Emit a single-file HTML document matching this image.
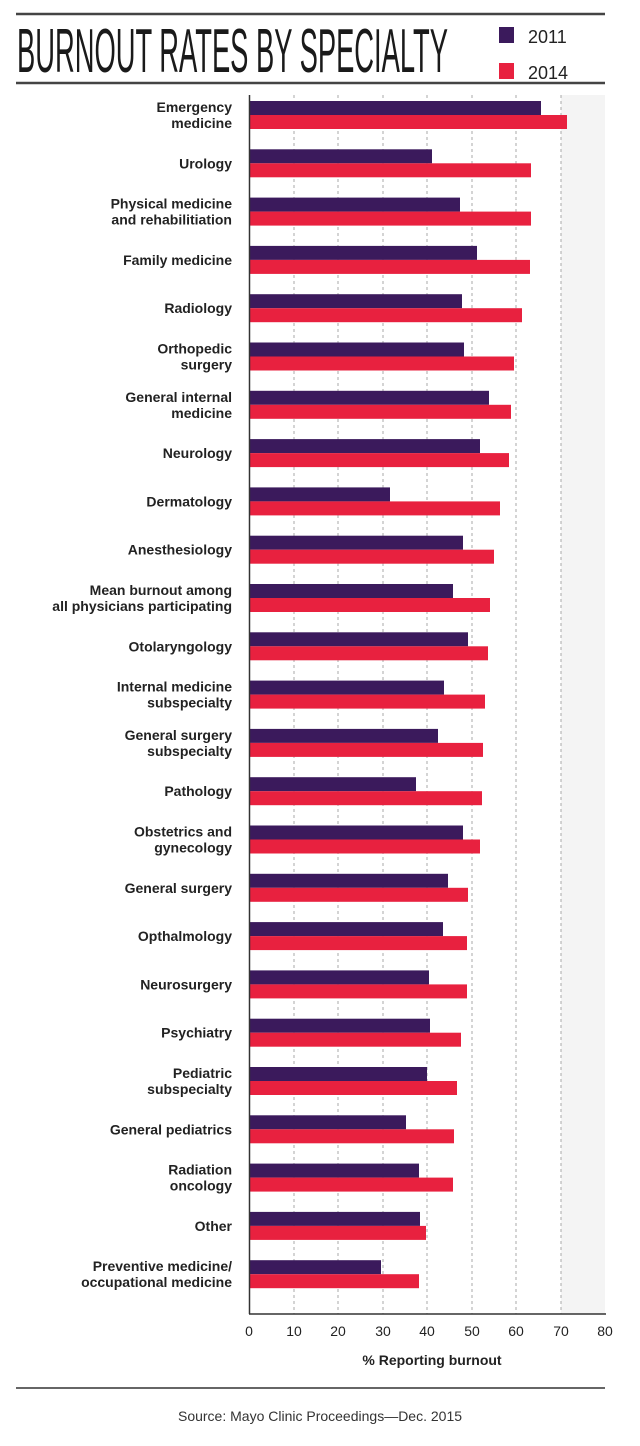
<!DOCTYPE html>
<html><head><meta charset="utf-8"><style>
html,body{margin:0;padding:0;background:#fff;}
svg{display:block;}
</style></head><body>
<svg width="640" height="1446" viewBox="0 0 640 1446" xmlns="http://www.w3.org/2000/svg" font-family="Liberation Sans, sans-serif">
<rect width="640" height="1446" fill="#fff"/>
<line x1="16" y1="14" x2="605" y2="14" stroke="#444" stroke-width="2.5"/>
<line x1="16" y1="83" x2="605" y2="83" stroke="#444" stroke-width="2.5"/>
<text x="17" y="72" font-size="62" fill="#1a1a1a" textLength="431" lengthAdjust="spacingAndGlyphs">BURNOUT RATES BY SPECIALTY</text>
<rect x="499" y="27" width="15" height="16" fill="#3b1a5c"/>
<rect x="499" y="63" width="15" height="16" fill="#e8213f"/>
<text x="528" y="43" font-size="18" fill="#222">2011</text>
<text x="528" y="79" font-size="18" fill="#222">2014</text>
<rect x="561" y="95" width="44" height="1219" fill="#f4f4f4"/>
<g stroke="#aaa" stroke-width="1" stroke-dasharray="3,3">
<line x1="294" y1="95" x2="294" y2="1314"/><line x1="338" y1="95" x2="338" y2="1314"/>
<line x1="383" y1="95" x2="383" y2="1314"/><line x1="427" y1="95" x2="427" y2="1314"/>
<line x1="472" y1="95" x2="472" y2="1314"/><line x1="516" y1="95" x2="516" y2="1314"/>
<line x1="561" y1="95" x2="561" y2="1314"/>
</g>
<g id="bars"></g>
<line x1="249.5" y1="95" x2="249.5" y2="1314" stroke="#333" stroke-width="1.5"/>
<line x1="249" y1="1314" x2="606" y2="1314" stroke="#333" stroke-width="1.5"/>
<g font-size="14" fill="#222" text-anchor="middle">
<text x="249" y="1336">0</text><text x="294" y="1336">10</text><text x="338" y="1336">20</text>
<text x="383" y="1336">30</text><text x="427" y="1336">40</text><text x="472" y="1336">50</text>
<text x="516" y="1336">60</text><text x="561" y="1336">70</text><text x="605" y="1336">80</text>
<text x="432" y="1365" font-weight="bold">% Reporting burnout</text>
</g>
<line x1="16" y1="1388" x2="605" y2="1388" stroke="#333" stroke-width="1.5"/>
<text x="320" y="1421" font-size="14" fill="#333" text-anchor="middle">Source: Mayo Clinic Proceedings—Dec. 2015</text>
<g id="rows" font-size="14" font-weight="bold" fill="#222" text-anchor="end">
</g>
<script>
var d=[["Emergency|medicine",541,567],["Urology",432,531],["Physical medicine|and rehabilitiation",460,531],["Family medicine",477,530],["Radiology",462,522],["Orthopedic|surgery",464,514],["General internal|medicine",489,511],["Neurology",480,509],["Dermatology",390,500],["Anesthesiology",463,494],["Mean burnout among|all physicians participating",453,490],["Otolaryngology",468,488],["Internal medicine|subspecialty",444,485],["General surgery|subspecialty",438,483],["Pathology",416,482],["Obstetrics and|gynecology",463,480],["General surgery",448,468],["Opthalmology",443,467],["Neurosurgery",429,467],["Psychiatry",430,461],["Pediatric|subspecialty",427,457],["General pediatrics",406,454],["Radiation|oncology",419,453],["Other",420,426],["Preventive medicine/|occupational medicine",381,419]];
var ns="http://www.w3.org/2000/svg",B=document.getElementById("bars"),R=document.getElementById("rows");
d.forEach(function(r,i){var t=101+i*48.3;
function rect(x2,y,c){var e=document.createElementNS(ns,"rect");e.setAttribute("x",249.5);e.setAttribute("y",y);e.setAttribute("width",x2-249.5);e.setAttribute("height",14);e.setAttribute("fill",c);B.appendChild(e);}
rect(r[1],t,"#3b1a5c");rect(r[2],t+14,"#e8213f");
var ls=r[0].split("|"),c=t+14;
ls.forEach(function(s,j){var e=document.createElementNS(ns,"text");e.setAttribute("x",232);
var y=ls.length==1?c+5:c-3+j*16;e.setAttribute("y",y);e.textContent=s;R.appendChild(e);});
});
</script>
</svg>
</body></html>
